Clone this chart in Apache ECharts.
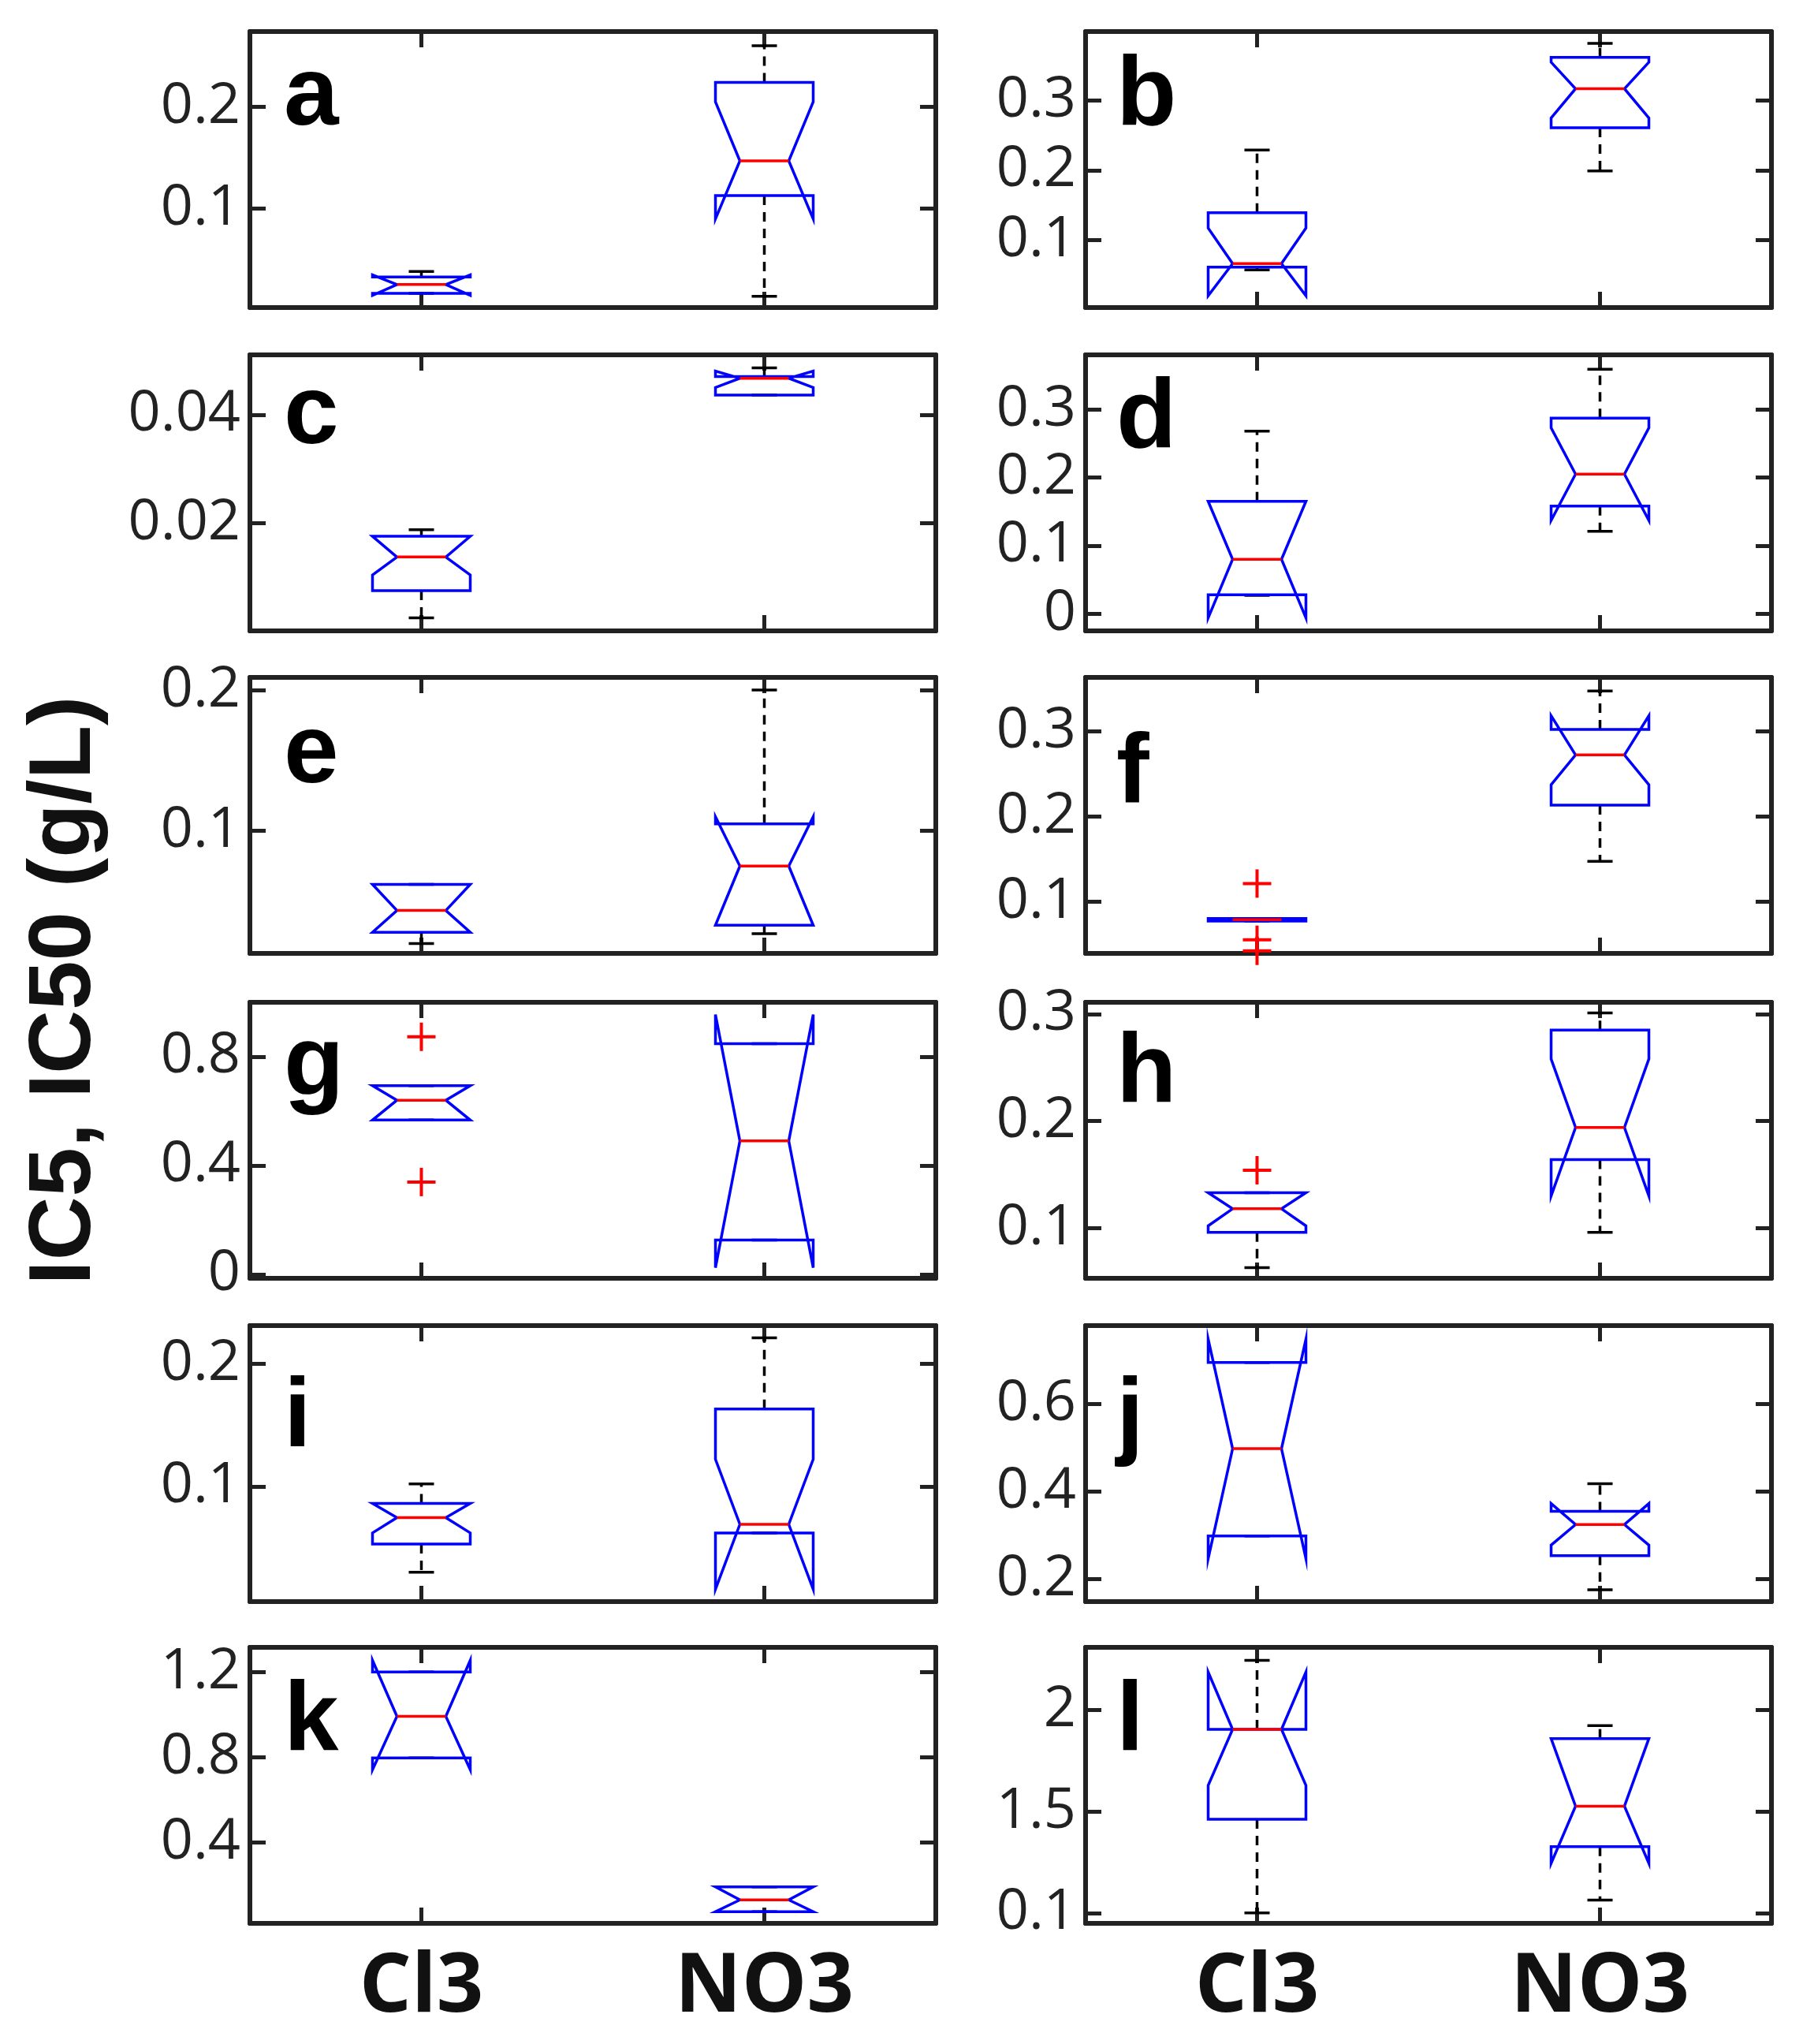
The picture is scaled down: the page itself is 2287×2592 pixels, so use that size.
<!DOCTYPE html><html><head><meta charset="utf-8">
<script src="https://cdn.jsdelivr.net/npm/echarts@6/dist/echarts.min.js"></script>
<style>html,body{margin:0;background:#fff}#c{width:2287px;height:2592px}</style></head><body><div id="c"></div>
<script>
const categories = ['Cl3','NO3'];
const panelLetters = ['a','b','c','d','e','f','g','h','i','j','k','l'];
// per box: [wlo, q1, notchLo, median, notchHi, q3, whi]
const boxA = [[0.017,0.017,0.015,0.0256,0.035,0.033,0.0385],[0.014,0.113,0.090,0.147,0.205,0.224,0.260]];
const boxB = [[0.057,0.061,0.020,0.066,0.117,0.139,0.229],[0.199,0.261,0.275,0.317,0.355,0.362,0.382]];
const boxC = [[0.0026,0.0076,0.0105,0.0138,0.0176,0.0176,0.0188],[0.0436,0.0436,0.045,0.0467,0.048,0.047,0.0486]];
const boxD = [[0.027,0.028,-0.006,0.080,0.165,0.165,0.268],[0.121,0.158,0.137,0.205,0.273,0.287,0.359]];
const boxE = [[0.020,0.028,0.028,0.0435,0.062,0.062,0.062],[0.027,0.033,0.033,0.075,0.110,0.105,0.200]];
const boxF = [[0.077,0.077,0.0775,0.0786,0.0795,0.080,0.080],[0.147,0.213,0.237,0.272,0.318,0.302,0.347]];
const boxG = [[0.567,0.567,0.567,0.640,0.693,0.693,0.693],[0.126,0.126,0.024,0.490,0.955,0.848,0.848]];
const boxH = [[0.063,0.096,0.102,0.118,0.133,0.133,0.133],[0.096,0.164,0.130,0.194,0.258,0.285,0.301]];
const boxI = [[0.030,0.053,0.062,0.0745,0.086,0.086,0.102],[0.062,0.062,0.016,0.069,0.122,0.163,0.221]];
const boxJ = [[0.299,0.299,0.247,0.498,0.748,0.695,0.695],[0.176,0.254,0.278,0.325,0.373,0.355,0.418]];
const boxK = [[0.797,0.797,0.742,0.992,1.255,1.200,1.200],[0.076,0.076,0.076,0.131,0.192,0.192,0.192]];
const boxL = [[1.000,1.462,1.628,1.904,2.186,1.904,2.244],[1.064,1.327,1.244,1.526,1.859,1.859,1.923]];
const boxes = [boxA,boxB,boxC,boxD,boxE,boxF,boxG,boxH,boxI,boxJ,boxK,boxL];
// outliers: [categoryIndex, value]
const outliers = [[],[],[],[],[],[[0,0.121],[0,0.055],[0,0.042]],[[0,0.873],[0,0.339]],[[0,0.154]],[],[],[],[]];
const yMin = [0.003,0.003,0.0002,-0.025,0.013,0.039,-0.015,0.053,0.006,0.149,0.021,0.949];
const yMax = [0.274,0.399,0.051,0.38,0.209,0.363,1.0,0.311,0.231,0.779,1.316,2.308];
const yTicks = [[0.1,0.2],[0.1,0.2,0.3],[0.02,0.04],[0,0.1,0.2,0.3],[0.1,0.2],[0.1,0.2,0.3],[0,0.4,0.8],[0.1,0.2,0.3],[0.1,0.2],[0.2,0.4,0.6],[0.4,0.8,1.2],[1,1.5,2]];
const yTickLabels = [['0.1','0.2'],['0.1','0.2','0.3'],['0.02','0.04'],['0','0.1','0.2','0.3'],['0.1','0.2'],['0.1','0.2','0.3'],['0','0.4','0.8'],['0.1','0.2','0.3'],['0.1','0.2'],['0.2','0.4','0.6'],['0.4','0.8','1.2'],['0.1','1.5','2']];

const tops=[40,450,859,1271,1681,2089], H=350, lefts=[317,1377], W=870;
const grid=[],xAxis=[],yAxis=[],series=[],graphic=[];
const axLine={show:true,onZero:false,lineStyle:{color:'#222',width:6}};
for(let p=0;p<12;p++){
  const r=Math.floor(p/2), c=p%2;
  grid.push({left:lefts[c],top:tops[r],width:W,height:H});
  const bottomRow = r===5;
  xAxis.push({type:'category',data:categories,gridIndex:p,position:'bottom',axisLine:axLine,
    axisTick:{show:true,inside:true,length:20,alignWithLabel:true,lineStyle:{color:'#222',width:5}},
    axisLabel:{show:bottomRow,fontSize:104,fontWeight:'bold',color:'#111',margin:30,fontFamily:'Open Sans'},splitLine:{show:false}});
  xAxis.push({type:'category',data:categories,gridIndex:p,position:'top',axisLine:axLine,
    axisTick:{show:true,inside:true,length:20,alignWithLabel:true,lineStyle:{color:'#222',width:5}},
    axisLabel:{show:false},splitLine:{show:false}});
  const ticks=yTicks[p], labs=yTickLabels[p];
  const yb={type:'value',gridIndex:p,min:yMin[p],max:yMax[p],axisLine:axLine,splitLine:{show:false},
    axisTick:{show:true,inside:true,length:20,customValues:ticks,lineStyle:{color:'#222',width:5}}};
  yAxis.push(Object.assign({},yb,{position:'left',axisLabel:{show:true,customValues:ticks,fontSize:72,color:'#222',margin:12,fontFamily:'Open Sans',
    formatter:(v)=>{const i=ticks.findIndex(t=>Math.abs(t-v)<1e-9);return i>=0?labs[i]:'';}}}));
  yAxis.push(Object.assign({},yb,{position:'right',axisLabel:{show:false}}));
  const data = boxes[p].map((b,i)=>[i].concat(b));
  series.push({type:'custom',xAxisIndex:2*p,yAxisIndex:2*p,data:data,renderItem:function(params,api){
    const ci=api.value(0); const v=[1,2,3,4,5,6,7].map(k=>api.value(k));
    const cx=api.coord([ci,v[3]])[0]; const hw=62, ind=31;
    const y=k=>api.coord([ci,v[k]])[1];
    const L=cx-hw,R=cx+hw;
    const ch=[];
    const blue={stroke:'#0000ff',lineWidth:3.5,fill:null};
    const blk={stroke:'#000',lineWidth:3.5};
    ch.push({type:'line',shape:{x1:cx,y1:y(5),x2:cx,y2:y(6)},style:Object.assign({lineDash:[12,9]},blk)});
    ch.push({type:'line',shape:{x1:cx,y1:y(1),x2:cx,y2:y(0)},style:Object.assign({lineDash:[12,9]},blk)});
    ch.push({type:'line',shape:{x1:cx-16,y1:y(6),x2:cx+16,y2:y(6)},style:blk});
    ch.push({type:'line',shape:{x1:cx-16,y1:y(0),x2:cx+16,y2:y(0)},style:blk});
    const pts=[[L,y(5)],[L,y(4)],[L+ind,y(3)],[L,y(2)],[L,y(1)],[R,y(1)],[R,y(2)],[R-ind,y(3)],[R,y(4)],[R,y(5)]];
    ch.push({type:'polygon',shape:{points:pts},style:Object.assign({},blue)});
    ch.push({type:'line',shape:{x1:L+ind,y1:y(3),x2:R-ind,y2:y(3)},style:{stroke:'#ff0000',lineWidth:3.5}});
    return {type:'group',children:ch};
  }});
  series.push({type:'custom',xAxisIndex:2*p,yAxisIndex:2*p,data:outliers[p],renderItem:function(params,api){
    const pt=api.coord([api.value(0),api.value(1)]); const s=18;
    return {type:'group',children:[
      {type:'line',shape:{x1:pt[0]-s,y1:pt[1],x2:pt[0]+s,y2:pt[1]},style:{stroke:'#ff0000',lineWidth:4}},
      {type:'line',shape:{x1:pt[0],y1:pt[1]-s,x2:pt[0],y2:pt[1]+s},style:{stroke:'#ff0000',lineWidth:4}}]};
  }});
}
const letterPos=[[360,136],[1416,136],[360,540],[1416,545],[360,970],[1416,995],[360,1366],[1416,1375],[360,1812],[1416,1812],[360,2197],[1416,2197]];
panelLetters.forEach((t,i)=>graphic.push({type:'text',left:letterPos[i][0],top:letterPos[i][1]-75,
  style:{text:t,fontSize:125,fontWeight:'bold',fill:'#000',fontFamily:'Liberation Sans'}}));
graphic.push({type:'text',x:83,y:1256,rotation:Math.PI/2,
  style:{text:'IC5, IC50 (g/L)',fontSize:112,fontWeight:'bold',fill:'#111',fontFamily:'Liberation Sans',align:'center',verticalAlign:'middle'}});
const chart=echarts.init(document.getElementById('c'));
chart.setOption({animation:false,grid,xAxis,yAxis,series,graphic});
</script></body></html>
